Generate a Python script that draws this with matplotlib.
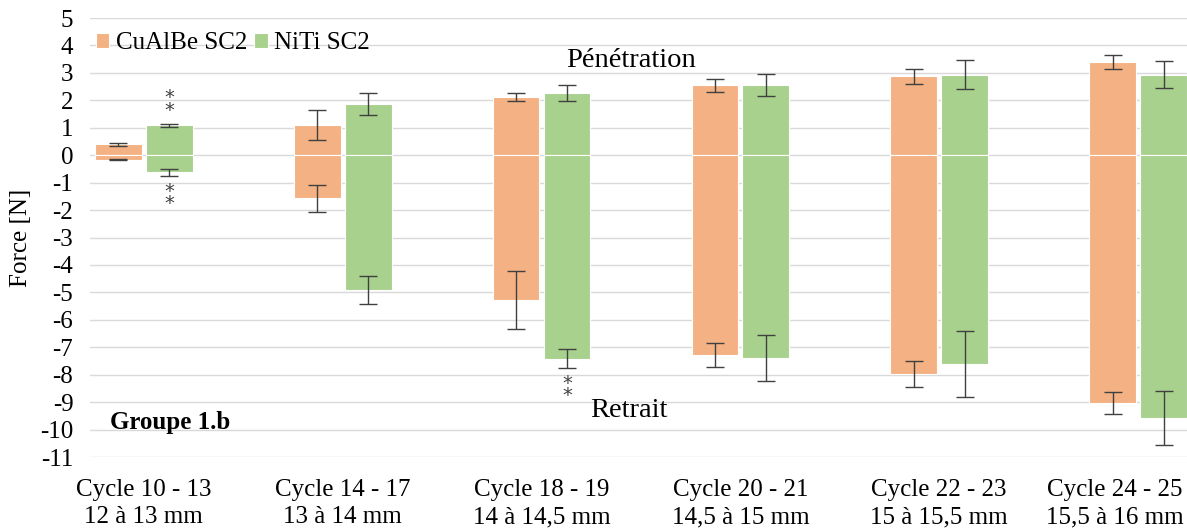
import numpy as np
import matplotlib
matplotlib.use("Agg")
import matplotlib.pyplot as plt
from matplotlib.transforms import ScaledTranslation

categories = ['Cycle 10 - 13\n12 à 13 mm', 'Cycle 14 - 17\n13 à 14 mm',
              'Cycle 18 - 19\n14 à 14,5 mm', 'Cycle 20 - 21\n14,5 à 15 mm',
              'Cycle 22 - 23\n15 à 15,5 mm', 'Cycle 24 - 25\n15,5 à 16 mm']

# penetration (positive) and retrait (negative) forces, with std errors
cualbe_pen = [0.40, 1.09, 2.12, 2.55, 2.88, 3.40]
cualbe_pen_err = [0.05, 0.55, 0.15, 0.24, 0.28, 0.26]
cualbe_ret = [-0.16, -1.57, -5.28, -7.27, -7.98, -9.02]
cualbe_ret_err = [0.03, 0.50, 1.07, 0.44, 0.47, 0.40]

niti_pen = [1.09, 1.85, 2.27, 2.55, 2.94, 2.94]
niti_pen_err = [0.05, 0.40, 0.28, 0.40, 0.52, 0.48]
niti_ret = [-0.63, -4.91, -7.41, -7.38, -7.60, -9.57]
niti_ret_err = [0.12, 0.50, 0.35, 0.84, 1.20, 0.98]

# significance markers (category index, y)
stars = [(0, 1.87), (0, -1.55), (2, -8.53)]

plt.rcParams['font.family'] = ['Liberation Serif', 'DejaVu Serif']
plt.rcParams['axes.unicode_minus'] = False

orange = '#F4B183'
green = '#A9D18E'
x = np.arange(len(categories))
w = 0.235
off = 0.128

fig = plt.figure(figsize=(11.87, 5.30), dpi=100)
ax = fig.add_axes([0.0758, 0.1377, 0.9242, 0.8283])

ekw = dict(ecolor='#404040', elinewidth=1, capsize=6.5, capthick=1)
ax.bar(x - off, cualbe_pen, w, yerr=cualbe_pen_err, color=orange, edgecolor='white',
       linewidth=0.8, error_kw=ekw, zorder=2, label='CuAlBe SC2')
ax.bar(x - off, cualbe_ret, w, yerr=cualbe_ret_err, color=orange, edgecolor='white',
       linewidth=0.8, error_kw=ekw, zorder=2)
ax.bar(x + off, niti_pen, w, yerr=niti_pen_err, color=green, edgecolor='white',
       linewidth=0.8, error_kw=ekw, zorder=2, label='NiTi SC2')
ax.bar(x + off, niti_ret, w, yerr=niti_ret_err, color=green, edgecolor='white',
       linewidth=0.8, error_kw=ekw, zorder=2)

for i, y in stars:
    ax.text(x[i] + off, y, '*\n*', ha='center', va='center', fontsize=14,
            linespacing=0.55, color='#404040', family='DejaVu Sans')

ax.set_xlim(-0.271, 5.246)
ax.set_ylim(-11, 5)
ax.set_yticks(range(-11, 6))
ax.set_xticks(x)
ax.set_xticklabels(categories, fontsize=18, linespacing=1.3)
ax.tick_params(axis='y', labelsize=18, length=0, pad=12)
ax.tick_params(axis='x', length=0, pad=16)
ax.grid(axis='y', color='#D9D9D9', linewidth=1, zorder=0)
ax.set_axisbelow(True)
for s in ax.spines.values():
    s.set_visible(False)
ax.set_ylabel('Force [N]', fontsize=18, labelpad=6)

# last label pulled left so it stays inside the picture
lbl = ax.get_xticklabels()[-1]
lbl.set_transform(lbl.get_transform() + ScaledTranslation(-0.23, 0, fig.dpi_scale_trans))

ax.text(2.45, 3.45, 'Pénétration', ha='center', va='center', fontsize=20.5)
ax.text(2.44, -9.3, 'Retrait', ha='center', va='center', fontsize=20.5)
ax.text(-0.17, -9.76, 'Groupe 1.b', ha='left', va='center', fontsize=18, fontweight='bold')

ax.legend(loc='upper left', bbox_to_anchor=(-0.004, 0.99), ncol=2, frameon=False,
          fontsize=18, handlelength=0.55, handleheight=0.55, handletextpad=0.25,
          columnspacing=0.3, borderaxespad=0)

fig.savefig('out.png', dpi=100)
